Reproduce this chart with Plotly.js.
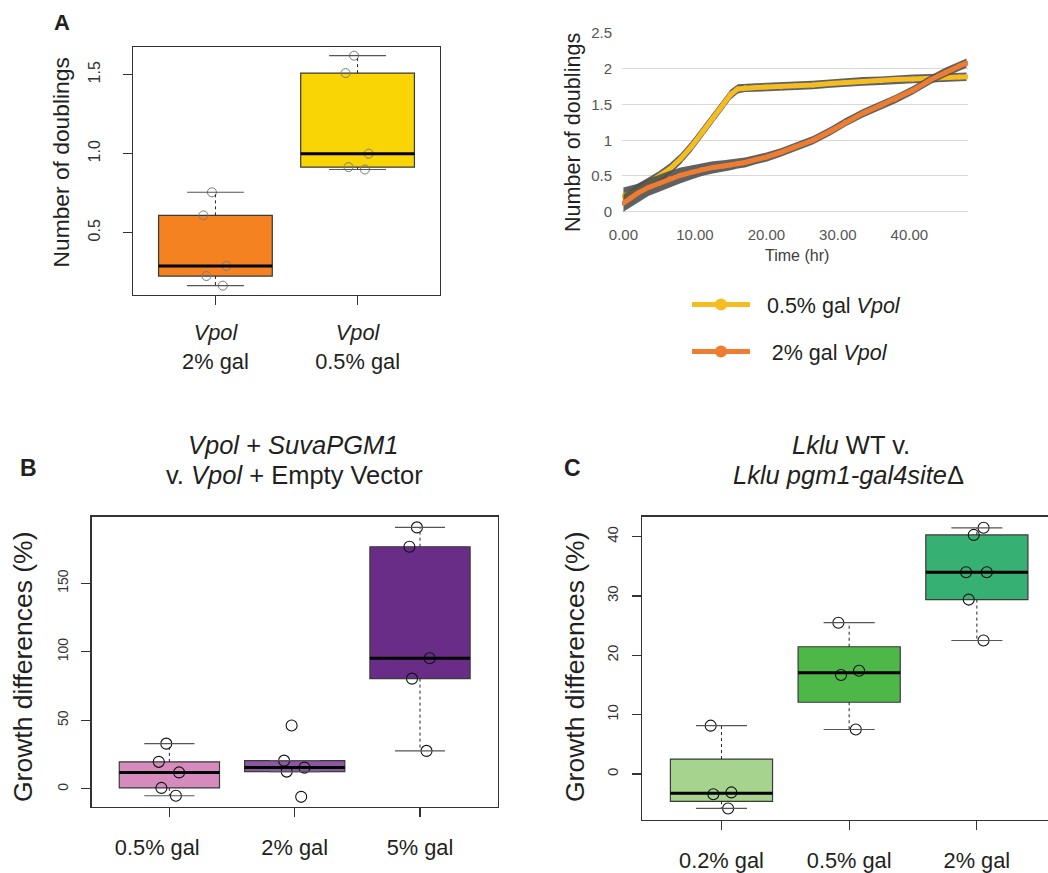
<!DOCTYPE html>
<html>
<head>
<meta charset="utf-8">
<script src="https://cdn.plot.ly/plotly-3.0.1.min.js"></script>
<style>
  html, body { margin: 0; padding: 0; background: #fff; }
  #chart { width: 1048px; height: 873px; }
</style>
</head>
<body>
<div id="chart"></div>
<script>
// ---------------- DATA ----------------
// Panel A (left): number of doublings
const catsA = ['<i>Vpol</i><br>2% gal', '<i>Vpol</i><br>0.5% gal'];
const doublingsGal2 = [0.756, 0.61, 0.29, 0.226, 0.165];
const doublingsGal05 = [1.62, 1.51, 1.00, 0.90, 0.915];

// Panel A (right): growth curves
const timeHr = [0, 1, 2, 3.5, 5, 6.5, 8, 9.5, 11, 12.5, 14, 15, 16, 17, 18.5, 20, 22, 24, 26.5, 29, 31, 33.5, 36, 38, 40.5, 43, 45, 47, 48];
const curveGal05 = [0.22, 0.26, 0.30, 0.40, 0.49, 0.60, 0.74, 0.91, 1.11, 1.31, 1.51, 1.64, 1.72, 1.735, 1.74, 1.745, 1.75, 1.765, 1.775, 1.795, 1.81, 1.825, 1.835, 1.85, 1.86, 1.87, 1.88, 1.885, 1.89];
const errGal05 = [0.12, 0.10, 0.09, 0.08, 0.08, 0.08, 0.075, 0.075, 0.075, 0.075, 0.075, 0.07, 0.065, 0.06, 0.06, 0.06, 0.06, 0.06, 0.06, 0.06, 0.06, 0.06, 0.06, 0.06, 0.06, 0.06, 0.06, 0.06, 0.06];
const curveGal2 = [0.12, 0.19, 0.26, 0.34, 0.40, 0.46, 0.51, 0.55, 0.59, 0.62, 0.64, 0.655, 0.675, 0.69, 0.73, 0.765, 0.83, 0.91, 1.00, 1.13, 1.25, 1.38, 1.49, 1.575, 1.70, 1.85, 1.95, 2.04, 2.08];
const errGal2 = [0.12, 0.13, 0.13, 0.12, 0.12, 0.115, 0.11, 0.10, 0.09, 0.085, 0.08, 0.075, 0.07, 0.07, 0.065, 0.065, 0.06, 0.06, 0.06, 0.06, 0.06, 0.06, 0.06, 0.06, 0.06, 0.06, 0.065, 0.065, 0.065];
const legendNames = ['\u00a0\u00a00.5% gal <i>Vpol</i>', '\u2002\u00a02% gal <i>Vpol</i>'];
const xTicksTime = [0, 10, 20, 30, 40];

// Panel B: Vpol + SuvaPGM1 v. Vpol + Empty Vector
const catsB = ['0.5% gal\u00a0\u00a0\u00a0\u00a0', '2% gal', '5% gal'];
const growthB05 = [33, 19.7, 12, 0.7, -5];
const growthB2 = [46.2, 20.6, 15.5, 12.6, -5.8];
const growthB5 = [190.7, 176.6, 95.3, 80.4, 27.7];

// Panel C: Lklu WT v. Lklu pgm1-gal4siteΔ
const catsC = ['0.2% gal', '0.5% gal', '2% gal'];
const growthC02 = [8.15, -3.1, -3.4, -5.8];
const growthC05 = [25.5, 17.4, 16.7, 7.5];
const growthC2 = [41.5, 40.3, 34.0, 34.0, 29.4, 22.5];

// ---------------- HELPERS ----------------
const FONT = 'Arial, "Liberation Sans", Helvetica, sans-serif';
const TXT = '#231f20';

function fivenum(arr) {
  const x = arr.slice().sort((a, b) => a - b);
  const n = x.length;
  const n4 = Math.floor((n + 3) / 2) / 2;
  const d = [1, n4, (n + 1) / 2, n + 1 - n4, n];
  return d.map(v => 0.5 * (x[Math.floor(v) - 1] + x[Math.ceil(v) - 1]));
}
function boxStats(arr) {
  const f = fivenum(arr);
  const iqr = f[3] - f[1];
  const lo = f[1] - 1.5 * iqr, hi = f[3] + 1.5 * iqr;
  const inside = arr.filter(v => v >= lo && v <= hi);
  return { q1: f[1], med: f[2], q3: f[3], wlo: Math.min(...inside), whi: Math.max(...inside) };
}

function boxPanel(groups, colors, xa, ya, pt) {
  const st = groups.map(boxStats);
  const idx = groups.map((g, i) => i + 1);
  const traces = [];
  traces.push({
    type: 'bar', x: idx, base: st.map(s => s.q1), y: st.map(s => s.q3 - s.q1), width: 0.8,
    marker: { color: colors, line: { color: '#3a3a3a', width: 1.2 } },
    xaxis: xa, yaxis: ya, showlegend: false, hoverinfo: 'skip'
  });
  const wx = [], wy = [], sx = [], sy = [], mx = [], my = [];
  st.forEach((s, i) => {
    const c = i + 1;
    wx.push(c, c, null, c, c, null); wy.push(s.q3, s.whi, null, s.q1, s.wlo, null);
    sx.push(c - 0.2, c + 0.2, null, c - 0.2, c + 0.2, null); sy.push(s.whi, s.whi, null, s.wlo, s.wlo, null);
    mx.push(c - 0.4, c + 0.4, null); my.push(s.med, s.med, null);
  });
  traces.push({ type: 'scatter', mode: 'lines', x: wx, y: wy, line: { color: '#222', width: 1, dash: '3px,3px' }, xaxis: xa, yaxis: ya, showlegend: false, hoverinfo: 'skip' });
  traces.push({ type: 'scatter', mode: 'lines', x: sx, y: sy, line: { color: '#555', width: 1.2 }, xaxis: xa, yaxis: ya, showlegend: false, hoverinfo: 'skip' });
  traces.push({ type: 'scatter', mode: 'lines', x: mx, y: my, line: { color: '#000', width: 3 }, xaxis: xa, yaxis: ya, showlegend: false, hoverinfo: 'skip' });
  groups.forEach((g, i) => {
    traces.push({
      type: 'box', y: g, x0: i + 1, width: 0.8, boxpoints: 'all', jitter: 0.25, pointpos: 0,
      line: { width: 0 }, fillcolor: 'rgba(0,0,0,0)', whiskerwidth: 0,
      marker: { symbol: 'circle-open', size: pt.size, color: pt.color, line: { color: pt.color, width: pt.width } },
      xaxis: xa, yaxis: ya, showlegend: false, hoverinfo: 'skip'
    });
  });
  return traces;
}

// ---------------- TRACES ----------------
let data = [];
data = data.concat(boxPanel([doublingsGal2, doublingsGal05], ['#f58220', '#fad506'], 'x', 'y', { size: 9, color: '#7a7a7a', width: 1 }));
data = data.concat(boxPanel([growthB05, growthB2, growthB5], ['#d58bbd', '#8d57a3', '#692c87'], 'x2', 'y2', { size: 11, color: '#111', width: 1.1 }));
data = data.concat(boxPanel([growthC02, growthC05, growthC2], ['#a6d48e', '#4db848', '#37b073'], 'x3', 'y3', { size: 11, color: '#111', width: 1.1 }));

function band(vals, errs, lineColor, name, grp) {
  const lo = vals.map((v, i) => v - errs[i]);
  const hi = vals.map((v, i) => v + errs[i]);
  return [
    { type: 'scatter', mode: 'lines', x: timeHr, y: lo, line: { width: 0, color: '#555' }, xaxis: 'x4', yaxis: 'y4', showlegend: false, hoverinfo: 'skip' },
    { type: 'scatter', mode: 'lines', x: timeHr, y: hi, fill: 'tonexty', fillcolor: 'rgba(80,80,80,0.9)', line: { width: 0, color: '#555' }, xaxis: 'x4', yaxis: 'y4', showlegend: false, hoverinfo: 'skip' },
    { type: 'scatter', mode: 'lines+markers', x: timeHr, y: vals, name: name, legendgroup: grp,
      line: { color: lineColor, width: 5 }, marker: { color: lineColor, size: 5 },
      xaxis: 'x4', yaxis: 'y4', showlegend: true, hoverinfo: 'skip' }
  ];
}
data = data.concat(band(curveGal05, errGal05, '#f5bd1f', legendNames[0], 'a'));
data = data.concat(band(curveGal2, errGal2, '#ee7d31', legendNames[1], 'b'));

// ---------------- LAYOUT ----------------
const W = 1048, H = 873;
const px = v => v / W;
const py = v => 1 - v / H;

function rAxisX(anchor, domain, range, tickvals, ticktext, standoff) {
  return {
    anchor: anchor, domain: domain, range: range, tickvals: tickvals, ticktext: ticktext,
    ticks: 'outside', ticklen: 9, tickcolor: '#333', tickwidth: 1.2,
    showline: true, mirror: true, linecolor: '#333', linewidth: 1.3,
    showgrid: false, zeroline: false, fixedrange: true,
    tickfont: { family: FONT, size: 21.8, color: TXT }, ticklabelstandoff: standoff
  };
}
function rAxisY(anchor, domain, range, tickvals, ticktext, size, standoff, mirror) {
  return {
    anchor: anchor, domain: domain, range: range, tickvals: tickvals, ticktext: ticktext, tickangle: -90,
    ticks: 'outside', ticklen: 9, tickcolor: '#333', tickwidth: 1.2,
    showline: true, mirror: mirror, linecolor: '#333', linewidth: 1.3,
    showgrid: false, zeroline: false, fixedrange: true,
    tickfont: { family: FONT, size: size, color: '#333' }, ticklabelstandoff: standoff
  };
}

function ann(text, x, y, size, opts) {
  return Object.assign({
    text: text, x: px(x), y: py(y), xref: 'paper', yref: 'paper',
    xanchor: 'center', yanchor: 'middle', showarrow: false,
    font: { family: FONT, size: size, color: TXT }
  }, opts || {});
}

const layout = {
  width: W, height: H, margin: { l: 0, r: 0, t: 0, b: 0 },
  paper_bgcolor: '#fff', plot_bgcolor: 'rgba(0,0,0,0)',
  font: { family: FONT, color: TXT },
  barmode: 'overlay', boxmode: 'overlay',
  xaxis: rAxisX('y', [px(133), px(440)], [0.42, 2.58], [1, 2], catsA, 9),
  yaxis: rAxisY('x', [py(295), py(47)], [0.106, 1.675], [0.5, 1.0, 1.5], ['0.5', '1.0', '1.5'], 16, 16, true),
  xaxis2: rAxisX('y2', [px(91.7), px(497.7)], [0.38, 3.62], [1, 2, 3], catsB, 12),
  yaxis2: rAxisY('x2', [py(806.7), py(516.7)], [-13, 198.5], [0, 50, 100, 150], ['0', '50', '100', '150'], 14, 8, true),
  xaxis3: rAxisX('y3', [px(642.3), 1], [0.38, 3.557], [1, 2, 3], catsC, 12),
  yaxis3: rAxisY('x3', [py(819.7), py(516.7)], [-7.7, 43.37], [0, 10, 20, 30, 40], ['0', '10', '20', '30', '40'], 15, 8, false),
  xaxis4: {
    anchor: 'y4', domain: [px(622), px(968)], range: [-0.2, 48.2], tickvals: xTicksTime, tickformat: '.2f',
    ticks: '', showline: false, showgrid: false, zeroline: false, fixedrange: true,
    tickfont: { family: FONT, size: 15, color: '#555' }, ticklabelstandoff: 7
  },
  yaxis4: {
    anchor: 'x4', domain: [py(217.4), py(33.2)], range: [-0.08, 2.5], tick0: 0, dtick: 0.5,
    ticks: '', showline: false, showgrid: true, gridcolor: '#d9d9d9', gridwidth: 1, zeroline: false, fixedrange: true,
    tickfont: { family: FONT, size: 15, color: '#555' }, ticklabelstandoff: 9
  },
  showlegend: true,
  legend: {
    x: px(687), y: py(284), xanchor: 'left', yanchor: 'top',
    font: { family: FONT, size: 21.5, color: TXT }, bgcolor: 'rgba(0,0,0,0)',
    itemsizing: 'constant', itemwidth: 58, tracegroupgap: 16, traceorder: 'grouped'
  },
  annotations: [
    ann('<b>A</b>', 62, 22, 22),
    ann('<b>B</b>', 28, 468, 23),
    ann('<b>C</b>', 572, 468, 23),
    ann('<i>Vpol</i> + <i>SuvaPGM1</i>', 293, 445, 25.5),
    ann('v. <i>Vpol</i> + Empty Vector', 294, 475, 25.5),
    ann('<i>Lklu</i> WT v.', 851, 445, 25.5),
    ann('<i>Lklu pgm1-gal4site</i>Δ', 848, 475, 25.5),
    ann('Number of doublings', 60, 162.5, 22.8, { textangle: -90 }),
    ann('Number of doublings', 572.5, 132.5, 21.6, { textangle: -90 }),
    ann('Time (hr)', 797, 255, 16, { font: { family: FONT, size: 16, color: '#404040' } }),
    ann('Growth differences (%)', 23, 667, 26.5, { textangle: -90 }),
    ann('Growth differences (%)', 575, 667, 26.5, { textangle: -90 })
  ]
};

Plotly.newPlot('chart', data, layout, { displayModeBar: false, staticPlot: true });
</script>
</body>
</html>
